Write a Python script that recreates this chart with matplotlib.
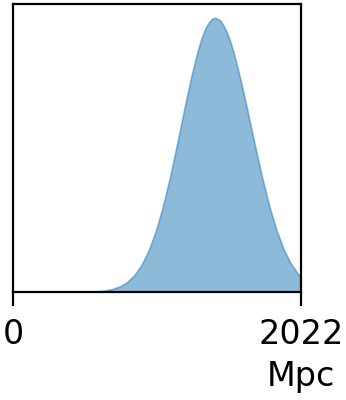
import matplotlib
matplotlib.use("Agg")
import matplotlib.pyplot as plt

# luminosity distance posterior (relative density)
distance_mpc = [0, 100, 200, 300, 400, 450, 500, 550, 600, 650, 700, 750, 800,
                850, 900, 950, 1000, 1050, 1100, 1150, 1200, 1250, 1300, 1325,
                1350, 1375, 1400, 1418, 1450, 1475, 1500, 1525, 1550, 1600,
                1650, 1700, 1750, 1800, 1850, 1900, 1950, 2000, 2022]
density = [0.0, 0.0, 0.0, 0.00002, 0.00012, 0.0003, 0.00066, 0.0014, 0.0030,
           0.0060, 0.0114, 0.0208, 0.0363, 0.0608, 0.0974, 0.1494, 0.2194,
           0.3086, 0.4157, 0.5361, 0.6620, 0.7827, 0.8861, 0.9277, 0.9607,
           0.9840, 0.9972, 1.0, 0.9918, 0.9743, 0.9476, 0.9125, 0.8699,
           0.7672, 0.6502, 0.5293, 0.4141, 0.3112, 0.2247, 0.1559, 0.1039,
           0.0665, 0.0540]
x_ticks = [0, 2022]
x_ticklabels = ["0", "2022\nMpc"]

fig = plt.figure(figsize=(3.46, 4.0), dpi=100)
ax = fig.add_axes([0.038, 0.27, 0.832, 0.72])

ax.fill_between(distance_mpc, density, color="tab:blue", alpha=0.5, lw=1.2)

ax.set_xlim(0, 2022)
ax.set_ylim(0, 1.05 * max(density))
ax.set_yticks([])
ax.set_xticks(x_ticks)
ax.set_xticklabels(x_ticklabels, fontsize=24, linespacing=1.35)
ax.tick_params(axis="x", length=10, width=1.6, pad=9)
for s in ax.spines.values():
    s.set_linewidth(1.6)

fig.savefig("out.png", dpi=100)
